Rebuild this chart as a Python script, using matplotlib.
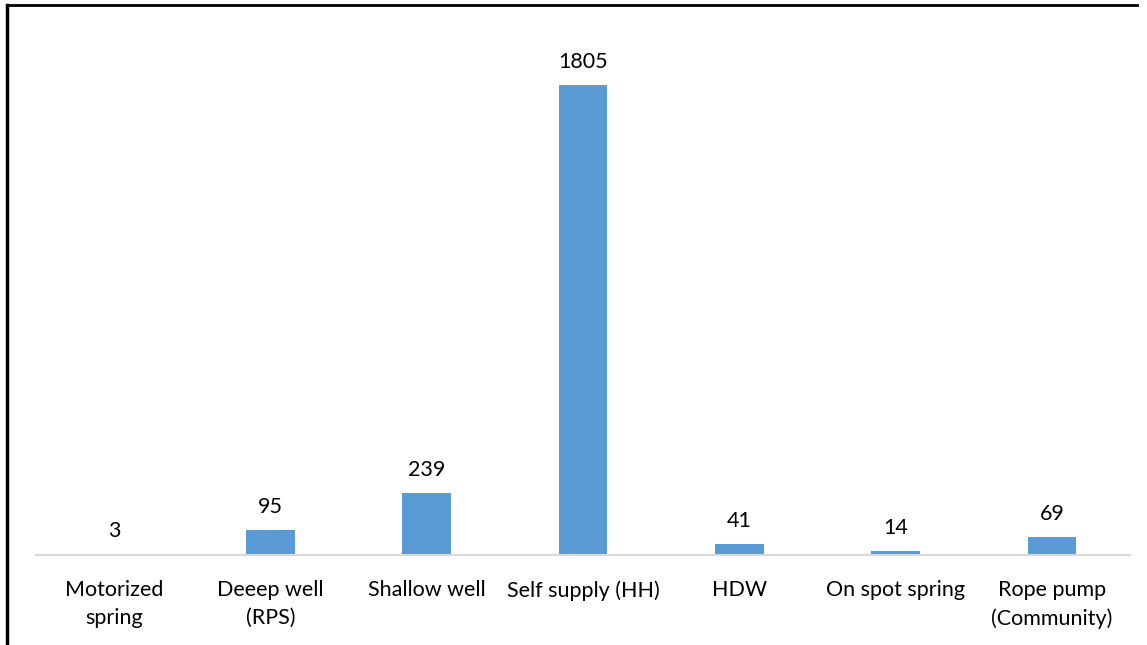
import matplotlib.pyplot as plt
from matplotlib.lines import Line2D

categories = ['Motorized\nspring', 'Deeep well\n(RPS)', 'Shallow well', 'Self supply (HH)',
              'HDW', 'On spot spring', 'Rope pump\n(Community)']
counts = [3, 95, 239, 1805, 41, 14, 69]

plt.rcParams['font.family'] = ['Lato', 'DejaVu Sans']

fig = plt.figure(figsize=(11.47, 6.45), dpi=100)
ax = fig.add_axes([36 / 1147, 1 - 555 / 645, (1130 - 36) / 1147, 520.8 / 645])

x = range(len(categories))
ax.bar(x, counts, width=0.31, color='#5B9BD5')
for i, v in zip(x, counts):
    ax.text(i, v + 50, str(v), ha='center', va='bottom', fontsize=15.5, color='black')

ax.set_xlim(-0.5, len(categories) - 0.5)
ax.set_ylim(0, 2000)
ax.set_xticks(list(x))
ax.set_xticklabels(categories, fontsize=15.5, linespacing=1.5)
ax.tick_params(axis='x', length=0, pad=18)
ax.set_yticks([])
for s in ['top', 'right', 'left']:
    ax.spines[s].set_visible(False)
ax.spines['bottom'].set_color('#D9D9D9')
ax.spines['bottom'].set_linewidth(1.5)

# outer frame lines (top and left)
fig.add_artist(Line2D([7 / 1147, 1137 / 1147], [1 - 5 / 645, 1 - 5 / 645], color='black', lw=2, transform=fig.transFigure))
fig.add_artist(Line2D([7 / 1147, 7 / 1147], [0, 1 - 5 / 645], color='black', lw=2.5, transform=fig.transFigure))

fig.savefig('out.png', dpi=100)
